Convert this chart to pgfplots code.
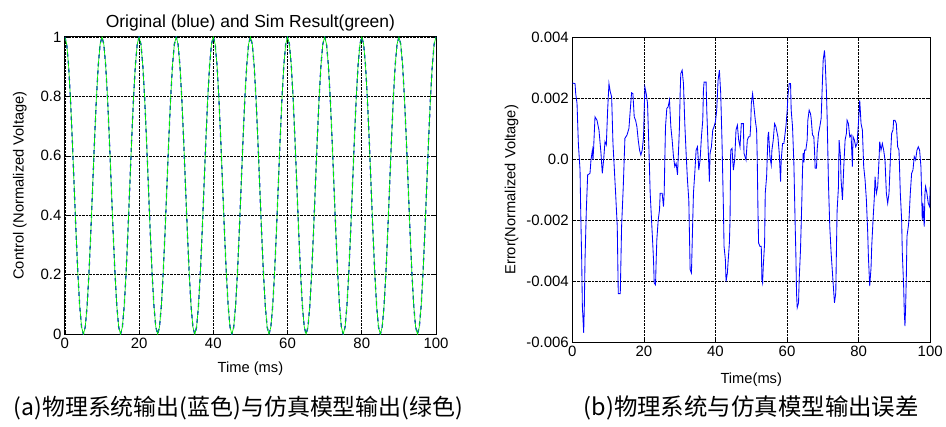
\documentclass[border=0pt]{standalone}
\usepackage{pgfplots}
\pgfplotsset{compat=1.18}
\usepackage{pgfplotstable}
\usepackage{fontspec}
\setmainfont{Liberation Sans}
\newfontfamily\cjk{Noto Sans CJK SC}

\pgfplotstableread{
t e
0 0.00250
0.76 0.00248
0.95 0.00215
1.32 0.00183
1.69 0.00052
2.16 -0.00035
2.34 -0.00165
2.62 -0.00329
2.81 -0.00481
3.18 -0.00568
3.36 -0.00481
3.55 -0.00329
3.92 -0.00165
4.29 -0.00051
4.94 -0.00046
5.22 -0.00002
5.60 0.00030
5.78 -0.00002
5.97 0.00041
6.34 0.00139
6.90 0.00128
7.45 0.00096
8.01 0.00020
8.38 -0.00046
8.75 -0.00002
9.13 0.00058
9.50 0.00047
9.87 0.00161
10.24 0.00248
10.61 0.00221
10.99 0.00205
11.36 0.00052
12.10 -0.00111
12.56 -0.00220
12.84 -0.00440
13.40 -0.00440
13.59 -0.00329
13.77 -0.00220
14.24 -0.00089
14.70 0.00069
15.26 0.00079
15.82 0.00101
16.19 0.00161
16.56 0.00218
16.93 0.00215
17.30 0.00139
17.68 0.00128
18.05 0.00107
18.42 0.00063
18.79 0.00030
19.16 0.00014
19.53 0.00030
19.91 0.00074
20.09 0.00161
20.28 0.00237
20.65 0.00215
21.02 0.00183
21.39 0.00041
21.76 -0.00111
22.14 -0.00199
22.51 -0.00285
22.69 -0.00329
22.88 -0.00405
23.25 -0.00411
23.44 -0.00329
23.62 -0.00263
24.00 -0.00199
24.37 -0.00165
24.55 -0.00111
25.11 -0.00111
25.48 -0.00155
25.67 -0.00111
25.85 -0.00002
26.04 0.00107
26.41 0.00167
26.78 0.00172
27.15 0.00194
27.53 0.00107
27.90 0.00063
28.27 0.00009
28.64 -0.00024
29.01 -0.00013
29.39 -0.00051
29.76 0.00052
29.94 0.00107
30.13 0.00215
30.31 0.00281
30.69 0.00292
31.06 0.00248
31.43 0.00117
31.80 0.00020
32.17 -0.00067
32.55 -0.00133
32.92 -0.00361
33.29 -0.00372
33.66 -0.00197
33.85 -0.00111
34.22 -0.00046
34.59 0.00030
34.96 0.00041
35.15 0.00009
35.33 -0.00035
35.71 -0.00002
36.08 0.00074
36.45 0.00128
36.64 0.00226
36.82 0.00253
37.38 0.00253
37.57 0.00161
37.94 0.00041
38.31 -0.00073
38.50 0.00020
38.87 0.00041
39.24 0.00096
39.61 0.00107
39.98 0.00123
40.35 0.00161
40.73 0.00259
41.10 0.00292
41.47 0.00215
41.84 0.00052
42.21 -0.00155
42.40 -0.00285
42.77 -0.00329
42.96 -0.00400
43.33 -0.00372
43.51 -0.00339
43.89 -0.00274
44.07 -0.00199
44.26 0.00030
44.63 0.00036
45.00 -0.00035
45.37 -0.00002
45.74 0.00096
46.12 0.00112
46.49 0.00063
46.86 0.00041
47.23 0.00117
47.79 0.00117
47.97 0.00020
48.53 -0.00002
48.90 0.00063
49.27 0.00074
49.65 0.00074
49.83 0.00107
50.02 0.00183
50.38 0.00215
50.75 0.00172
51.13 0.00128
51.50 0.00096
51.68 -0.00002
51.87 -0.00165
52.05 -0.00274
52.43 -0.00285
52.80 -0.00285
52.98 -0.00394
53.17 -0.00405
53.36 -0.00350
53.73 -0.00274
53.91 -0.00111
54.29 -0.00057
54.66 0.00074
54.84 0.00090
55.21 0.00009
55.59 -0.00018
55.77 0.00030
56.14 0.00063
56.52 0.00117
56.89 0.00107
57.07 0.00096
57.45 0.00074
57.82 0.00020
58.19 -0.00073
58.37 -0.00002
58.75 0.00052
59.12 0.00052
59.68 0.00107
60.05 0.00161
60.23 0.00205
60.60 0.00248
60.98 0.00248
61.16 0.00161
61.53 0.00107
61.91 -0.00013
62.28 -0.00220
62.46 -0.00307
62.65 -0.00438
62.84 -0.00486
63.21 -0.00470
63.39 -0.00394
63.76 -0.00296
64.14 -0.00133
64.32 -0.00035
64.51 0.00020
64.70 -0.00010
64.88 0.00030
65.25 0.00030
65.62 0.00063
65.81 0.00128
66.18 0.00161
66.55 0.00150
66.74 0.00134
67.11 0.00080
67.48 0.00074
67.67 0.00030
67.86 -0.00029
68.23 -0.00029
68.41 0.00030
68.79 0.00085
69.16 0.00107
69.53 0.00134
69.90 0.00259
70.09 0.00324
70.46 0.00357
70.64 0.00324
70.83 0.00270
71.02 0.00215
71.20 0.00139
71.39 0.00030
71.57 -0.00078
71.94 -0.00220
72.32 -0.00307
72.69 -0.00372
73.06 -0.00437
73.25 -0.00470
73.62 -0.00437
73.80 -0.00296
73.99 -0.00167
74.36 -0.00091
74.55 0.00063
74.92 0.00009
75.10 -0.00067
75.48 -0.00133
75.85 -0.00024
76.22 0.00063
76.59 0.00085
76.78 0.00128
77.15 0.00117
77.52 0.00074
77.89 0.00080
78.26 -0.00024
78.45 0.00074
78.82 0.00063
79.19 0.00041
79.57 0.00052
79.94 0.00117
80.31 0.00193
80.68 0.00117
81.05 0.00096
81.42 -0.00024
81.80 -0.00067
82.17 -0.00133
82.54 -0.00240
82.73 -0.00318
83.10 -0.00415
83.47 -0.00355
83.66 -0.00285
84.03 -0.00198
84.40 -0.00122
84.59 -0.00057
84.96 -0.00111
85.33 -0.00089
85.70 -0.00002
85.89 0.00058
86.26 0.00030
86.63 0.00052
87.00 0.00030
87.37 -0.00002
87.75 -0.00111
88.12 -0.00144
88.49 -0.00111
88.86 -0.00002
89.23 0.00085
89.60 0.00096
89.79 0.00128
90.16 0.00128
90.53 0.00117
90.91 0.00041
91.28 0.00030
91.65 -0.00111
92.02 -0.00199
92.21 -0.00307
92.58 -0.00416
92.77 -0.00503
92.95 -0.00546
93.14 -0.00481
93.33 -0.00383
93.51 -0.00252
93.88 -0.00220
94.07 -0.00199
94.44 -0.00111
94.81 -0.00046
95.18 -0.00035
95.55 0.00009
95.93 -0.00002
96.30 0.00030
96.67 0.00041
97.04 0.00030
97.41 -0.00024
97.60 -0.00111
97.78 -0.00198
97.97 -0.00144
98.15 -0.00187
98.34 -0.00220
98.53 -0.00111
98.71 -0.00089
99.08 -0.00111
99.46 -0.00144
99.83 -0.00155
100.00 -0.00089
}\errtable

\pgfplotsset{
  mstyle/.style={
    scale only axis,
    axis line style={black, line width=0.9pt},
    tick align=inside,
    tick style={black, line width=0.6pt},
    major tick length=4pt,
    grid=major,
    major grid style={black, densely dotted, line width=0.6pt},
    tick label style={font=\fontsize{15}{18}\selectfont},
    label style={font=\fontsize{14.7}{17}\selectfont},
    /pgf/number format/assume math mode=true,
    scaled y ticks=false, scaled x ticks=false,
    xmin=0, xmax=100,
    xtick={0,20,40,60,80,100},
    xticklabels={0,20,40,60,80,100},
    clip=true,
  }
}

\begin{document}
\begin{tikzpicture}[x=1pt,y=1pt]
\path (0,0) rectangle (946,427);

\begin{axis}[mstyle,
  at={(65pt,92pt)}, anchor=south west,
  width=372pt, height=298pt,
  ymin=0, ymax=1,
  ytick={0,0.2,0.4,0.6,0.8,1},
  yticklabels={0,0.2,0.4,0.6,0.8,1},
  xlabel={Time (ms)},
  ylabel={Control (Normalized Voltage)},
  title={Original (blue) and Sim Result(green)},
  title style={font=\fontsize{17.5}{20}\selectfont, yshift=-4pt},
  xlabel style={yshift=-7pt},
  ylabel style={yshift=7pt},
]
\addplot[blue, line width=1.3pt, dash pattern=on 4pt off 4pt] coordinates {
(0,1)(0.5,0.9755)(1,0.9045)(1.5,0.7939)(2,0.6545)(2.5,0.5)(3,0.3455)(3.5,0.2061)(4,0.0955)(4.5,0.0245)(5,0)(5.5,0.0245)(6,0.0955)(6.5,0.2061)(7,0.3455)(7.5,0.5)(8,0.6545)(8.5,0.7939)(9,0.9045)(9.5,0.9755)
(10,1)(10.5,0.9755)(11,0.9045)(11.5,0.7939)(12,0.6545)(12.5,0.5)(13,0.3455)(13.5,0.2061)(14,0.0955)(14.5,0.0245)(15,0)(15.5,0.0245)(16,0.0955)(16.5,0.2061)(17,0.3455)(17.5,0.5)(18,0.6545)(18.5,0.7939)(19,0.9045)(19.5,0.9755)
(20,1)(20.5,0.9755)(21,0.9045)(21.5,0.7939)(22,0.6545)(22.5,0.5)(23,0.3455)(23.5,0.2061)(24,0.0955)(24.5,0.0245)(25,0)(25.5,0.0245)(26,0.0955)(26.5,0.2061)(27,0.3455)(27.5,0.5)(28,0.6545)(28.5,0.7939)(29,0.9045)(29.5,0.9755)
(30,1)(30.5,0.9755)(31,0.9045)(31.5,0.7939)(32,0.6545)(32.5,0.5)(33,0.3455)(33.5,0.2061)(34,0.0955)(34.5,0.0245)(35,0)(35.5,0.0245)(36,0.0955)(36.5,0.2061)(37,0.3455)(37.5,0.5)(38,0.6545)(38.5,0.7939)(39,0.9045)(39.5,0.9755)
(40,1)(40.5,0.9755)(41,0.9045)(41.5,0.7939)(42,0.6545)(42.5,0.5)(43,0.3455)(43.5,0.2061)(44,0.0955)(44.5,0.0245)(45,0)(45.5,0.0245)(46,0.0955)(46.5,0.2061)(47,0.3455)(47.5,0.5)(48,0.6545)(48.5,0.7939)(49,0.9045)(49.5,0.9755)
(50,1)(50.5,0.9755)(51,0.9045)(51.5,0.7939)(52,0.6545)(52.5,0.5)(53,0.3455)(53.5,0.2061)(54,0.0955)(54.5,0.0245)(55,0)(55.5,0.0245)(56,0.0955)(56.5,0.2061)(57,0.3455)(57.5,0.5)(58,0.6545)(58.5,0.7939)(59,0.9045)(59.5,0.9755)
(60,1)(60.5,0.9755)(61,0.9045)(61.5,0.7939)(62,0.6545)(62.5,0.5)(63,0.3455)(63.5,0.2061)(64,0.0955)(64.5,0.0245)(65,0)(65.5,0.0245)(66,0.0955)(66.5,0.2061)(67,0.3455)(67.5,0.5)(68,0.6545)(68.5,0.7939)(69,0.9045)(69.5,0.9755)
(70,1)(70.5,0.9755)(71,0.9045)(71.5,0.7939)(72,0.6545)(72.5,0.5)(73,0.3455)(73.5,0.2061)(74,0.0955)(74.5,0.0245)(75,0)(75.5,0.0245)(76,0.0955)(76.5,0.2061)(77,0.3455)(77.5,0.5)(78,0.6545)(78.5,0.7939)(79,0.9045)(79.5,0.9755)
(80,1)(80.5,0.9755)(81,0.9045)(81.5,0.7939)(82,0.6545)(82.5,0.5)(83,0.3455)(83.5,0.2061)(84,0.0955)(84.5,0.0245)(85,0)(85.5,0.0245)(86,0.0955)(86.5,0.2061)(87,0.3455)(87.5,0.5)(88,0.6545)(88.5,0.7939)(89,0.9045)(89.5,0.9755)
(90,1)(90.5,0.9755)(91,0.9045)(91.5,0.7939)(92,0.6545)(92.5,0.5)(93,0.3455)(93.5,0.2061)(94,0.0955)(94.5,0.0245)(95,0)(95.5,0.0245)(96,0.0955)(96.5,0.2061)(97,0.3455)(97.5,0.5)(98,0.6545)(98.5,0.7939)(99,0.9045)(99.5,0.9755)
(100,1)
};
\addplot[color={rgb,255:red,0;green,235;blue,0}, line width=0.7pt] coordinates {
(0,1)(0.5,0.9755)(1,0.9045)(1.5,0.7939)(2,0.6545)(2.5,0.5)(3,0.3455)(3.5,0.2061)(4,0.0955)(4.5,0.0245)(5,0)(5.5,0.0245)(6,0.0955)(6.5,0.2061)(7,0.3455)(7.5,0.5)(8,0.6545)(8.5,0.7939)(9,0.9045)(9.5,0.9755)
(10,1)(10.5,0.9755)(11,0.9045)(11.5,0.7939)(12,0.6545)(12.5,0.5)(13,0.3455)(13.5,0.2061)(14,0.0955)(14.5,0.0245)(15,0)(15.5,0.0245)(16,0.0955)(16.5,0.2061)(17,0.3455)(17.5,0.5)(18,0.6545)(18.5,0.7939)(19,0.9045)(19.5,0.9755)
(20,1)(20.5,0.9755)(21,0.9045)(21.5,0.7939)(22,0.6545)(22.5,0.5)(23,0.3455)(23.5,0.2061)(24,0.0955)(24.5,0.0245)(25,0)(25.5,0.0245)(26,0.0955)(26.5,0.2061)(27,0.3455)(27.5,0.5)(28,0.6545)(28.5,0.7939)(29,0.9045)(29.5,0.9755)
(30,1)(30.5,0.9755)(31,0.9045)(31.5,0.7939)(32,0.6545)(32.5,0.5)(33,0.3455)(33.5,0.2061)(34,0.0955)(34.5,0.0245)(35,0)(35.5,0.0245)(36,0.0955)(36.5,0.2061)(37,0.3455)(37.5,0.5)(38,0.6545)(38.5,0.7939)(39,0.9045)(39.5,0.9755)
(40,1)(40.5,0.9755)(41,0.9045)(41.5,0.7939)(42,0.6545)(42.5,0.5)(43,0.3455)(43.5,0.2061)(44,0.0955)(44.5,0.0245)(45,0)(45.5,0.0245)(46,0.0955)(46.5,0.2061)(47,0.3455)(47.5,0.5)(48,0.6545)(48.5,0.7939)(49,0.9045)(49.5,0.9755)
(50,1)(50.5,0.9755)(51,0.9045)(51.5,0.7939)(52,0.6545)(52.5,0.5)(53,0.3455)(53.5,0.2061)(54,0.0955)(54.5,0.0245)(55,0)(55.5,0.0245)(56,0.0955)(56.5,0.2061)(57,0.3455)(57.5,0.5)(58,0.6545)(58.5,0.7939)(59,0.9045)(59.5,0.9755)
(60,1)(60.5,0.9755)(61,0.9045)(61.5,0.7939)(62,0.6545)(62.5,0.5)(63,0.3455)(63.5,0.2061)(64,0.0955)(64.5,0.0245)(65,0)(65.5,0.0245)(66,0.0955)(66.5,0.2061)(67,0.3455)(67.5,0.5)(68,0.6545)(68.5,0.7939)(69,0.9045)(69.5,0.9755)
(70,1)(70.5,0.9755)(71,0.9045)(71.5,0.7939)(72,0.6545)(72.5,0.5)(73,0.3455)(73.5,0.2061)(74,0.0955)(74.5,0.0245)(75,0)(75.5,0.0245)(76,0.0955)(76.5,0.2061)(77,0.3455)(77.5,0.5)(78,0.6545)(78.5,0.7939)(79,0.9045)(79.5,0.9755)
(80,1)(80.5,0.9755)(81,0.9045)(81.5,0.7939)(82,0.6545)(82.5,0.5)(83,0.3455)(83.5,0.2061)(84,0.0955)(84.5,0.0245)(85,0)(85.5,0.0245)(86,0.0955)(86.5,0.2061)(87,0.3455)(87.5,0.5)(88,0.6545)(88.5,0.7939)(89,0.9045)(89.5,0.9755)
(90,1)(90.5,0.9755)(91,0.9045)(91.5,0.7939)(92,0.6545)(92.5,0.5)(93,0.3455)(93.5,0.2061)(94,0.0955)(94.5,0.0245)(95,0)(95.5,0.0245)(96,0.0955)(96.5,0.2061)(97,0.3455)(97.5,0.5)(98,0.6545)(98.5,0.7939)(99,0.9045)(99.5,0.9755)
(100,1)
};
\end{axis}

\begin{axis}[mstyle,
  at={(573.6pt,83.7pt)}, anchor=south west,
  width=358.7pt, height=306pt,
  ymin=-0.006, ymax=0.004,
  ytick={-0.006,-0.004,-0.002,0,0.002,0.004},
  yticklabels={-0.006,-0.004,-0.002,0.0,0.002,0.004},
  xlabel={Time(ms)},
  ylabel={Error(Normalized Voltage)},
  xlabel style={yshift=-9pt},
  ylabel style={yshift=1pt},
]
\addplot[color={rgb,255:red,0;green,0;blue,255}, line width=0.85pt] table[x=t, y=e] {\errtable};
\end{axis}

\node[font=\fontsize{23}{26}\selectfont\cjk, anchor=center] at (239,18) {(a)物理系统输出(蓝色)与仿真模型输出(绿色)};
\node[font=\fontsize{23.5}{26}\selectfont\cjk, anchor=center] at (753,18) {(b)物理系统与仿真模型输出误差};
\end{tikzpicture}
\end{document}
